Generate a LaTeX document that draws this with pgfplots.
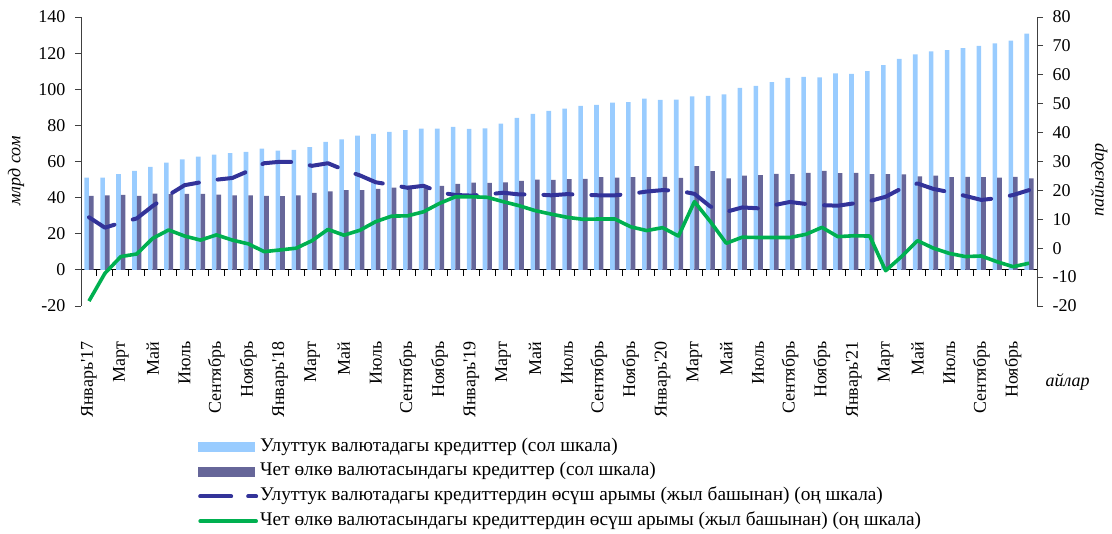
\documentclass[border=0pt]{standalone}
\usepackage{pgfplots}
\pgfplotsset{compat=1.18}
\usepackage{pgfplotstable}
\usepackage{fontspec}
\setmainfont{Liberation Serif}
\definecolor{natbar}{HTML}{99CCFF}
\definecolor{forbar}{HTML}{666699}
\definecolor{natline}{HTML}{333399}
\definecolor{forline}{HTML}{00B050}
\definecolor{axgray}{HTML}{404040}

\pgfplotstableread{
idx nat for natg forg
0 51.0 41.0 10.7 -18.3
1 51.1 41.3 7.1 -8.7
2 53.0 41.5 8.8 -2.9
3 54.8 41.0 10.3 -2.0
4 57.0 42.2 14.6 3.4
5 59.4 41.9 18.4 6.3
6 61.2 42.1 21.8 4.2
7 62.7 42.1 22.8 2.8
8 63.8 41.7 23.7 4.6
9 64.6 41.3 24.3 2.8
10 65.3 41.3 26.7 1.5
11 67.1 41.0 29.4 -1.2
12 66.0 40.8 29.9 -0.6
13 66.4 41.3 29.8 0.0
14 67.9 42.6 28.5 2.6
15 70.8 43.5 29.4 6.5
16 72.3 44.1 27.1 4.5
17 74.3 44.1 25.2 6.2
18 75.3 44.8 22.8 9.2
19 76.4 45.6 21.9 11.1
20 77.3 46.7 20.9 11.2
21 78.2 45.7 21.6 12.6
22 78.2 46.5 19.3 15.5
23 79.1 47.6 18.4 17.8
24 78.0 48.3 18.2 17.8
25 78.4 48.1 18.6 17.6
26 81.0 48.5 19.2 16.1
27 84.1 49.3 18.6 14.7
28 86.3 50.0 18.6 13.0
29 88.0 49.8 18.3 11.8
30 89.3 50.2 18.7 10.7
31 90.8 50.4 18.5 10.0
32 91.3 51.3 18.3 10.1
33 92.6 51.1 18.3 10.1
34 92.8 51.3 18.8 7.4
35 94.8 51.3 19.6 6.1
36 94.1 51.5 20.1 7.1
37 94.3 50.9 19.9 4.2
38 96.1 57.4 18.8 16.1
39 96.3 54.6 14.4 9.2
40 97.2 50.7 12.6 1.7
41 100.7 52.2 14.1 3.8
42 101.8 52.4 13.8 3.7
43 104.0 53.1 14.9 3.7
44 106.3 53.0 16.0 3.7
45 106.8 53.7 15.3 4.8
46 106.6 54.8 14.9 7.2
47 108.8 53.5 14.7 4.0
48 108.5 53.7 15.5 4.3
49 110.0 53.0 16.3 4.2
50 113.3 53.0 17.8 -7.8
51 116.8 52.8 20.7 -2.9
52 119.3 51.8 22.4 2.6
53 121.0 52.2 20.5 0.0
54 121.7 51.3 19.4 -1.8
55 122.7 51.5 18.1 -2.9
56 124.0 51.3 16.7 -2.7
57 125.4 51.1 17.3 -4.7
58 126.9 51.5 18.4 -6.4
59 130.8 50.7 20.1 -5.2
}\datatable

\newcommand{\tickfont}{\fontsize{18}{20}\selectfont}
\newcommand{\legfont}{\fontsize{19.3}{21}\selectfont}

\begin{document}
\begin{tikzpicture}
\useasboundingbox (0pt,0pt) rectangle (1112pt,534pt);
\pgfplotsset{
  base/.style={
    scale only axis, width=956pt, height=289pt,
    at={(81pt,228pt)}, anchor=south west,
    xmin=-0.5, xmax=59.5,
    /pgf/number format/assume math mode=true,
    tick label style={font=\tickfont},
  }
}
% zero line with category ticks
\begin{axis}[base, ymin=-20, ymax=140,
  axis y line=none, axis x line=middle,
  x axis line style={-, black, line width=0.9pt},
  xtick={-0.5,0.5,...,59.5}, xticklabels={},
  xtick align=outside, major tick length=6pt,
  x tick style={black, line width=0.9pt}]
\end{axis}
% bars, left axis
\begin{axis}[base, ymin=-20, ymax=140,
  ytick={-20,0,...,140},
  axis y line*=left, axis x line*=bottom,
  x axis line style={draw=none},
  y axis line style={axgray, line width=0.9pt},
  ytick align=outside, major tick length=6pt,
  y tick style={axgray, line width=0.9pt},
  x tick style={draw=none},
  xtick={0,2,...,58},
  xticklabels={Январь\textquotesingle17,Март,Май,Июль,Сентябрь,Ноябрь,
    Январь\textquotesingle18,Март,Май,Июль,Сентябрь,Ноябрь,
    Январь\textquotesingle19,Март,Май,Июль,Сентябрь,Ноябрь,
    Январь\textquotesingle20,Март,Май,Июль,Сентябрь,Ноябрь,
    Январь\textquotesingle21,Март,Май,Июль,Сентябрь,Ноябрь},
  xticklabel style={rotate=90, anchor=east},
  xticklabel shift=26pt,
  yticklabel shift=6pt,
  ylabel={млрд сом},
  every axis y label/.style={at={(axis description cs:-0.068,0.467)}, rotate=90, anchor=center, font=\tickfont\itshape},
  xlabel={айлар},
  every axis x label/.style={at={(axis description cs:1.032,-0.263)}, anchor=center, font=\tickfont\itshape},
  ybar=0pt, bar width=4.6pt]
\addplot[ybar, fill=natbar, draw=none] table[x=idx, y=nat]{\datatable};
\addplot[ybar, fill=forbar, draw=none] table[x=idx, y=for]{\datatable};
\end{axis}
% lines, right axis
\begin{axis}[base, ymin=-20, ymax=80,
  ytick={-20,-10,...,80},
  axis y line*=right, axis x line=none,
  y axis line style={axgray, line width=0.9pt},
  ytick align=outside, major tick length=6pt,
  y tick style={axgray, line width=0.9pt},
  yticklabel shift=6pt,
  ylabel={пайыздар},
  every axis y label/.style={at={(axis description cs:1.065,0.436)}, rotate=90, anchor=center, font=\tickfont\itshape},
  legend style={at={(axis description cs:0.119,-0.446)}, anchor=north west,
    draw=none, fill=none, font=\legfont, row sep=4.7pt,
    nodes={inner sep=2pt, text height=12pt, text depth=4pt}},
  legend cell align=left]
\addlegendimage{legend image code/.code={\fill[natbar] (0pt,-4.5pt) rectangle (56pt,4.5pt);}}
\addlegendentry{Улуттук валютадагы кредиттер (сол шкала)}
\addlegendimage{legend image code/.code={\fill[forbar] (0pt,-4.5pt) rectangle (56pt,4.5pt);}}
\addlegendentry{Чет өлкө валютасындагы кредиттер (сол шкала)}
\addplot[natline, line width=4pt, line cap=round, line join=round, dash pattern=on 29pt off 19pt,
  legend image code/.code={\draw[natline, line width=4pt, line cap=round, dash pattern=on 31pt off 17pt] (2pt,0pt) -- (58pt,0pt);}]
  table[x=idx, y=natg]{\datatable};
\addlegendentry{Улуттук валютадагы кредиттердин өсүш арымы (жыл башынан) (оң шкала)}
\addplot[forline, line width=3.6pt, line join=round,
  legend image code/.code={\draw[forline, line width=3.6pt, line cap=round] (2pt,0pt) -- (58pt,0pt);}]
  table[x=idx, y=forg]{\datatable};
\addlegendentry{Чет өлкө валютасындагы кредиттердин өсүш арымы (жыл башынан) (оң шкала)}
\end{axis}
\end{tikzpicture}
\end{document}
